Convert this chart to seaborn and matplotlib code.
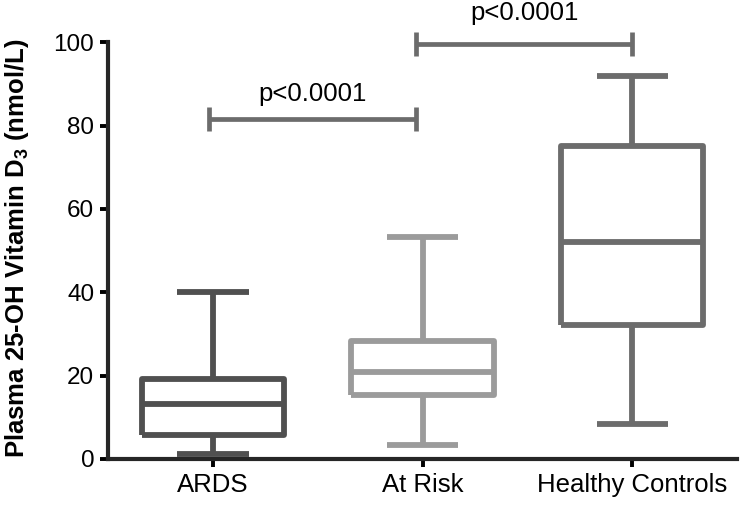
import matplotlib
matplotlib.use("Agg")
import matplotlib.pyplot as plt
import seaborn as sns
import pandas as pd

# five-number summaries: min, Q1, median, Q3, max
groups = ["ARDS", "At Risk", "Healthy Controls"]
ards = [1.2, 5.8, 13.1, 19.1, 40.0]
at_risk = [3.4, 15.3, 20.8, 28.4, 53.2]
healthy = [8.4, 32.1, 52.0, 75.0, 91.8]
colors = ["#505050", "#9b9b9b", "#6c6c6c"]

# significance brackets: (left x, right x, height, label gap, label)
brackets = [(-0.02, 0.97, 81.6, 4.2, "p<0.0001"),
            (0.97, 2.0, 99.6, 5.6, "p<0.0001")]

df = pd.DataFrame({
    "group": [g for g, v in zip(groups, [ards, at_risk, healthy]) for _ in v],
    "value": ards + at_risk + healthy,
})

sns.set_style("ticks")
plt.rcParams["font.family"] = ["Liberation Sans", "DejaVu Sans"]
plt.rcParams["mathtext.fontset"] = "custom"
plt.rcParams["mathtext.bf"] = "Liberation Sans:bold"
plt.rcParams["mathtext.rm"] = "Liberation Sans"
for key in ["text.color", "axes.labelcolor", "xtick.color", "ytick.color"]:
    plt.rcParams[key] = "black"

fig = plt.figure(figsize=(7.4, 5.08), dpi=100)
ax = fig.add_axes([0.146, 0.0965, 0.85, 0.8205])

sns.boxplot(data=df, x="group", y="value", hue="group", palette=colors,
            order=groups, hue_order=groups, legend=False, fill=False,
            whis=(0, 100), width=0.68, linewidth=4.2, ax=ax)

for line in ax.lines:
    line.set_solid_joinstyle("round")
    line.set_solid_capstyle("butt")
for patch in ax.patches:
    patch.set_joinstyle("round")

for x1, x2, h, gap, label in brackets:
    kw = dict(color="#6c6c6c", lw=3.4, clip_on=False, solid_capstyle="butt")
    ax.plot([x1, x1], [h - 2.9, h + 2.9], **kw)
    ax.plot([x2, x2], [h - 2.9, h + 2.9], **kw)
    ax.plot([x1, x2], [h, h], **kw)
    ax.text((x1 + x2) / 2, h + gap, label, ha="center", va="baseline",
            fontsize=18.5, clip_on=False)

ax.set_xlim(-0.5, 2.5)
ax.set_ylim(0, 100)
ax.set_yticks([0, 20, 40, 60, 80, 100])
ax.set_xlabel("")
ax.set_ylabel(r"Plasma 25-OH Vitamin D$_\mathbf{3}$ (nmol/L)", fontsize=18.5,
              fontweight="bold")
ax.yaxis.set_label_coords(-0.122, 0.505)
ax.tick_params(axis="both", width=2.8, length=6, pad=4)
ax.tick_params(axis="y", labelsize=17.5)
ax.tick_params(axis="x", labelsize=18.5)
for side in ["left", "bottom"]:
    ax.spines[side].set_linewidth(3.0)
sns.despine(ax=ax)

fig.savefig("out.png", dpi=100)
